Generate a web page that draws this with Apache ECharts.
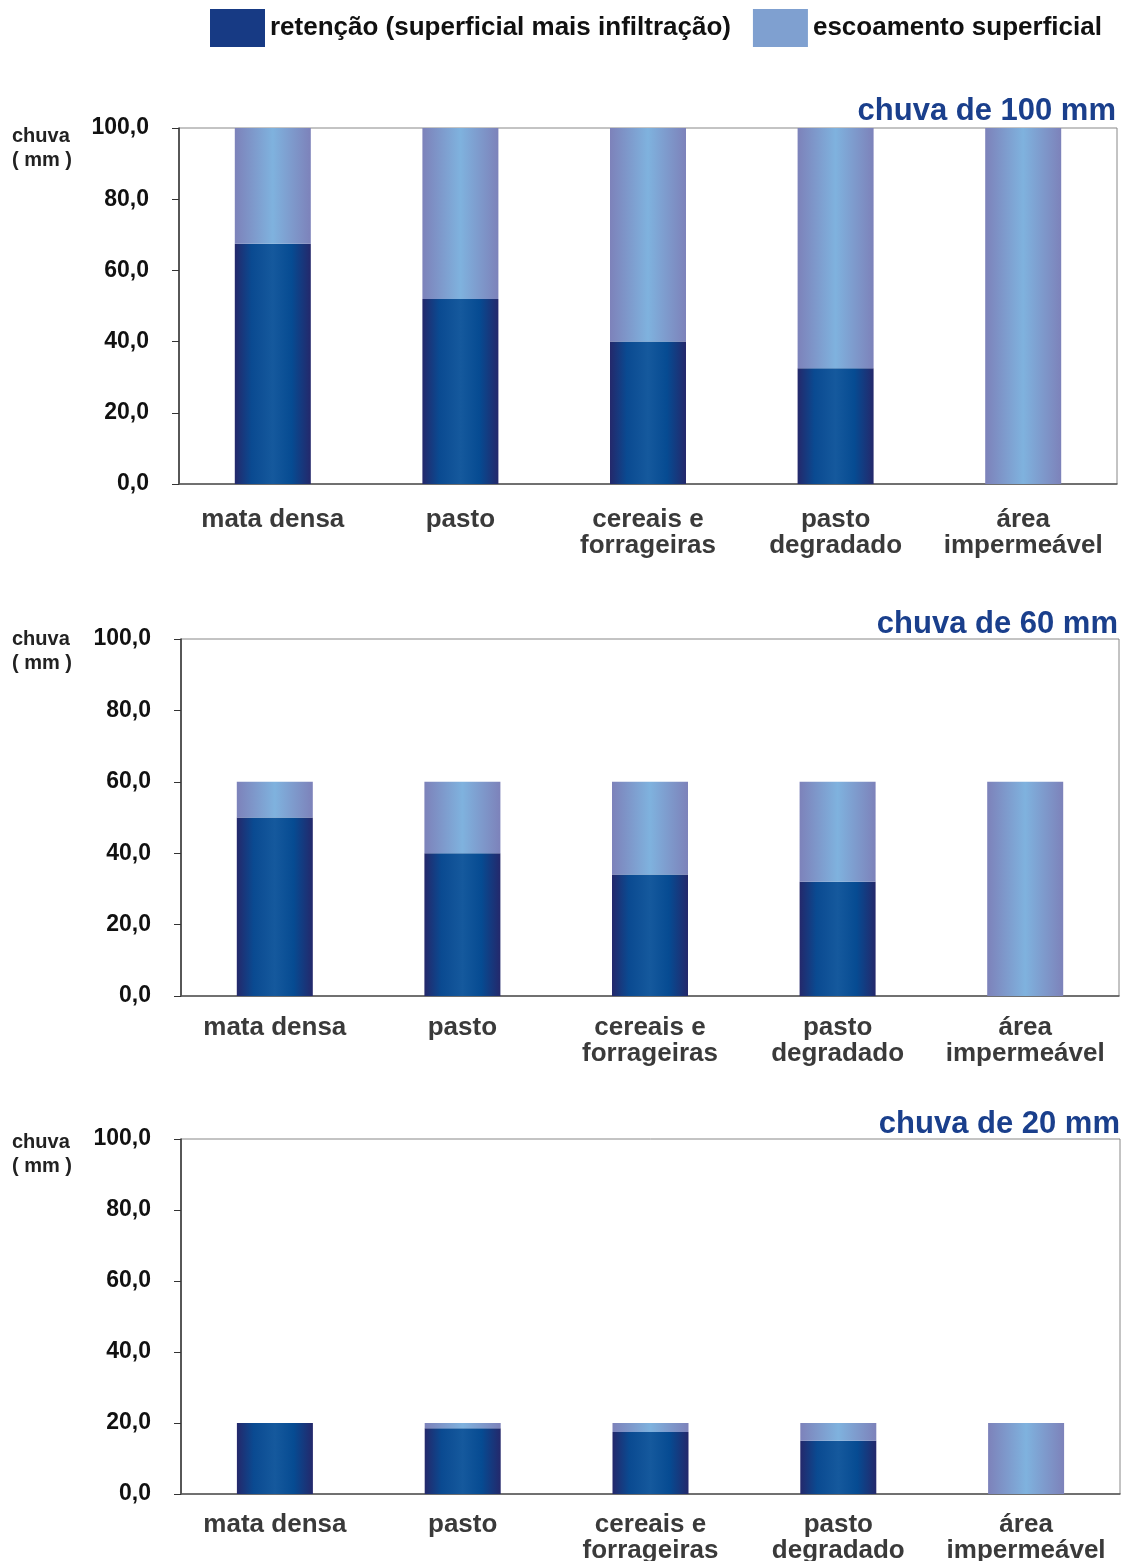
<!DOCTYPE html>
<html>
<head>
<meta charset="utf-8">
<script src="https://cdn.jsdelivr.net/npm/echarts@6/dist/echarts.min.js"></script>
<style>
  body { margin: 0; background: #fff; }
  #chart { width: 1125px; height: 1561px; }
</style>
</head>
<body>
<div id="chart"></div>
<script>
const categories = ['mata densa', 'pasto', 'cereais e\nforrageiras', 'pasto\ndegradado', 'área\nimpermeável']
const rainTitles = ['chuva de 100 mm', 'chuva de 60 mm', 'chuva de 20 mm']

// retenção (superficial mais infiltração)
const ret100 = [67.5, 52, 40, 32.5, 0]
const ret60 = [50, 40, 34, 32, 0]
const ret20 = [20, 18.5, 17.5, 15, 0]

// escoamento superficial
const esc100 = [32.5, 48, 60, 67.5, 100]
const esc60 = [10, 20, 26, 28, 60]
const esc20 = [0, 1.5, 2.5, 5, 20]

const yTicks = [0, 20, 40, 60, 80, 100]

const chart = echarts.init(document.getElementById('chart'))

const retGrad = new echarts.graphic.LinearGradient(0, 0, 1, 0, [
  { offset: 0, color: '#24286b' },
  { offset: 0.22, color: '#0a4a91' },
  { offset: 0.5, color: '#15599d' },
  { offset: 0.75, color: '#064b92' },
  { offset: 1, color: '#24286b' }
])
const escGrad = new echarts.graphic.LinearGradient(0, 0, 1, 0, [
  { offset: 0, color: '#7d82ba' },
  { offset: 0.5, color: '#7fb2de' },
  { offset: 1, color: '#7d82ba' }
])

const grids = [
  { left: 179, right: 8, top: 128, height: 356 },
  { left: 181, right: 6, top: 639, height: 357 },
  { left: 181, right: 5, top: 1139, height: 355 }
]
const titleTops = [96, 609, 1109]
const titleRights = [9, 7, 5]
const unitTops = [124, 627, 1130]
const labelMargins = [23, 19, 18]

const retData = [ret100, ret60, ret20]
const escData = [esc100, esc60, esc20]

const LEG_RET = 'retenção (superficial mais infiltração)'
const LEG_ESC = 'escoamento superficial'

const titles = []
rainTitles.forEach((t, i) => {
  titles.push({
    text: t,
    right: titleRights[i],
    top: titleTops[i],
    padding: 0,
    textStyle: { fontFamily: 'Liberation Sans, Arial', fontWeight: 'bold', fontSize: 31, color: '#1a3f8c' }
  })
  titles.push({
    text: 'chuva\n( mm )',
    left: 12,
    top: unitTops[i],
    padding: 0,
    textStyle: { fontFamily: 'Liberation Sans, Arial', fontWeight: 'bold', fontSize: 20, lineHeight: 24, color: '#222' }
  })
})

const series = []
retData.forEach((d, i) => {
  series.push({
    name: LEG_RET,
    type: 'bar',
    stack: 's' + i,
    xAxisIndex: i,
    yAxisIndex: i,
    barWidth: 76,
    itemStyle: { color: retGrad },
    data: d
  })
  series.push({
    name: LEG_ESC,
    type: 'bar',
    stack: 's' + i,
    xAxisIndex: i,
    yAxisIndex: i,
    barWidth: 76,
    itemStyle: { color: escGrad },
    data: escData[i]
  })
})

const option = {
  animation: false,
  title: titles,
  legend: {
    left: 205,
    top: 4,
    itemWidth: 55,
    itemHeight: 38,
    itemGap: 22,
    icon: 'rect',
    textStyle: { fontFamily: 'Liberation Sans, Arial', fontWeight: 'bold', fontSize: 26, color: '#111' },
    data: [
      { name: LEG_RET, itemStyle: { color: '#173a84' } },
      { name: LEG_ESC, itemStyle: { color: '#7fa0d0' } }
    ]
  },
  grid: grids.map(g => Object.assign({
    show: true,
    borderColor: '#888',
    borderWidth: 1,
    containLabel: false,
    outerBoundsMode: 'none'
  }, g)),
  xAxis: grids.map((g, i) => ({
    type: 'category',
    gridIndex: i,
    data: categories,
    axisLine: { lineStyle: { color: '#555', width: 1.5 } },
    axisTick: { show: false },
    axisLabel: {
      interval: 0,
      margin: labelMargins[i],
      fontFamily: 'Liberation Sans, Arial',
      fontWeight: 'bold',
      fontSize: 26,
      lineHeight: 26,
      color: '#3a3a3a'
    }
  })),
  yAxis: grids.map((g, i) => ({
    type: 'value',
    gridIndex: i,
    min: yTicks[0],
    max: yTicks[yTicks.length - 1],
    interval: 20,
    splitLine: { show: false },
    axisLine: { show: true, lineStyle: { color: '#333', width: 1.5 } },
    axisTick: { show: true, length: 7, lineStyle: { color: '#333' } },
    axisLabel: {
      margin: 30,
      fontFamily: 'Liberation Sans, Arial',
      fontWeight: 'bold',
      fontSize: 23,
      color: '#111',
      formatter: v => v.toFixed(1).replace('.', ',')
    }
  })),
  series: series
}

chart.setOption(option)
</script>
</body>
</html>
